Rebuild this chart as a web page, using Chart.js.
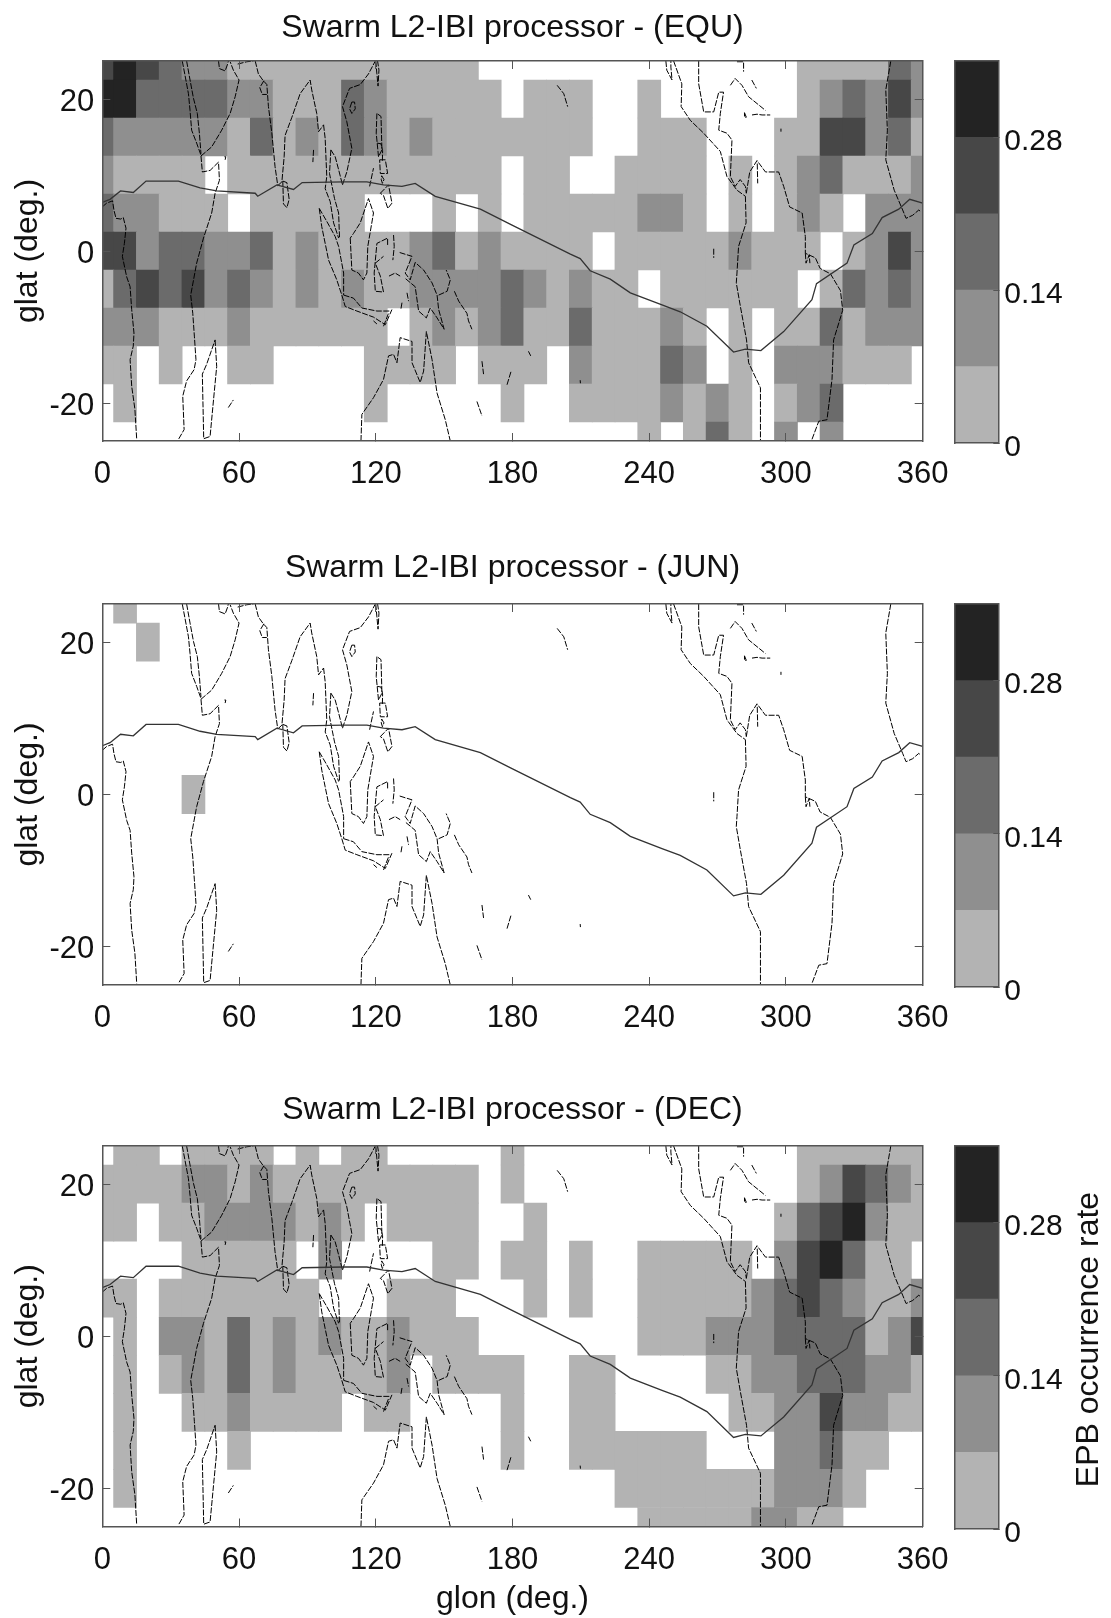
<!DOCTYPE html>
<html lang="en">
  <head>
    <meta charset="UTF-8" />
    <title>Swarm L2-IBI processor</title>
    <script src="https://cdn.jsdelivr.net/npm/chart.js"></script>
    <style>
      body {
        margin: 0;
        background: #fff;
        width: 1111px;
        height: 1618px;
        position: relative;
        overflow: hidden;
      }
      canvas {
        position: absolute;
      }
    </style>
  </head>
  <body>
    <canvas id="mapEqu" width="960" height="501" style="left: 0; top: 0"></canvas>
    <canvas id="mapJun" width="960" height="502" style="left: 0; top: 543px"></canvas>
    <canvas id="mapDec" width="960" height="533" style="left: 0; top: 1085px"></canvas>
    <canvas id="barEqu" width="161" height="432" style="left: 950px; top: 51px"></canvas>
    <canvas id="barJun" width="161" height="433" style="left: 950px; top: 594px"></canvas>
    <canvas id="barDec" width="161" height="433" style="left: 950px; top: 1136px"></canvas>

    <script>
      const lons = [0,10,20,30,40,50,60,70,80,90,100,110,120,130,140,150,160,170,180,190,200,210,220,230,240,250,260,270,280,290,300,310,320,330,340,350,360];
      const lats = [25,20,15,10,5,0,-5,-10,-15,-20,-25];
      const lonTicks = [0,60,120,180,240,300,360];
      const latTicks = [-20,0,20];
      const rateTicks = [0,0.14,0.28];
      const rateBins = [0,0.07,0.14,0.21,0.28,0.35];
      const binColors = ["#b3b3b3","#8f8f8f","#6b6b6b","#474747","#232323"];

      // colour bin per cell (0 = no bubble seen, n = n-th colourbar bin), row per lat
      const equ25 = [4,5,4,3,2,2,1,1,1,1,1,1,1,1,1,1,1,0,0,0,0,0,0,0,0,0,0,0,0,0,0,1,1,1,1,3,2];
      const equ20 = [5,5,3,3,3,3,2,2,1,1,1,3,2,1,1,1,1,1,0,1,1,1,0,0,1,0,0,0,0,0,0,1,2,3,2,4,2];
      const equ15 = [3,2,2,2,2,2,1,3,1,2,1,3,2,1,2,1,1,1,1,1,1,1,0,0,1,1,1,0,0,0,1,1,4,4,2,3,1];
      const equ10 = [2,1,1,1,1,0,1,1,1,1,1,1,1,1,1,1,1,1,0,1,1,0,0,1,1,1,1,0,1,0,1,2,3,1,1,1,2];
      const equ05 = [3,2,2,1,1,1,0,1,1,1,1,1,0,0,0,1,0,1,0,1,1,1,1,1,2,2,1,0,1,0,1,2,1,0,2,2,2];
      const equ00 = [4,4,2,3,3,2,2,3,1,2,1,1,1,1,2,3,1,2,1,1,1,1,0,1,1,1,1,1,2,1,1,1,0,1,2,4,2];
      const equS05 = [1,3,4,3,4,2,3,2,1,2,1,2,1,1,2,2,2,2,3,2,1,2,1,1,0,1,1,1,1,1,1,0,1,3,2,3,2];
      const equS10 = [2,2,2,1,1,1,2,1,1,1,1,1,1,0,1,2,1,2,3,1,1,3,1,1,1,2,1,0,1,0,1,1,3,1,2,2,2];
      const equS15 = [1,1,0,1,0,0,1,1,0,0,0,0,1,1,1,1,0,1,1,1,0,2,1,1,1,3,2,0,1,0,2,2,2,1,1,1,0];
      const equS20 = [0,1,0,0,0,0,0,0,0,0,0,0,1,0,0,0,0,0,1,0,0,1,1,1,1,2,1,2,1,0,1,2,3,0,0,0,0];
      const equS25 = [0,0,0,0,0,0,0,0,0,0,0,0,0,0,0,0,0,0,0,0,0,0,0,0,1,0,1,3,1,0,2,0,2,0,0,0,0];
      const equRows = [equ25,equ20,equ15,equ10,equ05,equ00,equS05,equS10,equS15,equS20,equS25];

      const blankRow = [0,0,0,0,0,0,0,0,0,0,0,0,0,0,0,0,0,0,0,0,0,0,0,0,0,0,0,0,0,0,0,0,0,0,0,0,0];
      const jun25 = [0,1,0,0,0,0,0,0,0,0,0,0,0,0,0,0,0,0,0,0,0,0,0,0,0,0,0,0,0,0,0,0,0,0,0,0,0];
      const jun20 = [0,0,1,0,0,0,0,0,0,0,0,0,0,0,0,0,0,0,0,0,0,0,0,0,0,0,0,0,0,0,0,0,0,0,0,0,0];
      const jun00 = [0,0,0,0,1,0,0,0,0,0,0,0,0,0,0,0,0,0,0,0,0,0,0,0,0,0,0,0,0,0,0,0,0,0,0,0,0];
      const junRows = [jun25,jun20,blankRow,blankRow,blankRow,jun00,blankRow,blankRow,blankRow,blankRow,blankRow];

      const dec25 = [0,1,1,0,1,1,1,1,0,1,0,1,1,0,0,0,0,0,1,0,0,0,0,0,0,0,0,0,0,0,0,1,1,1,1,1,1];
      const dec20 = [1,1,1,1,2,2,1,2,1,1,1,1,1,1,1,1,1,0,1,0,0,0,0,0,0,0,0,0,0,0,0,1,2,4,3,2,1];
      const dec15 = [1,1,0,1,1,2,2,2,2,1,2,1,0,1,1,1,1,0,0,1,0,0,0,0,0,0,0,0,0,0,1,3,4,5,2,1,1];
      const dec10 = [0,0,0,0,1,1,1,1,1,0,2,0,0,0,0,1,1,0,1,1,0,1,0,0,1,1,1,1,1,0,2,4,5,3,1,1,0];
      const dec05 = [1,1,0,1,1,1,1,1,1,1,0,0,0,1,1,1,0,0,0,1,0,1,0,0,1,1,1,1,1,2,3,4,3,2,1,1,2];
      const dec00 = [0,1,0,2,2,1,3,1,2,1,2,1,1,2,1,1,1,0,0,0,0,0,0,0,1,1,1,2,2,2,3,3,3,3,1,2,4];
      const decS05 = [0,1,0,1,2,1,3,1,2,1,1,1,1,2,0,1,1,1,1,0,0,1,1,0,0,0,0,1,1,2,2,3,3,3,2,2,1];
      const decS10 = [0,1,0,0,1,1,2,1,1,1,1,0,1,1,0,0,0,0,1,0,0,1,1,0,0,0,0,0,1,1,2,2,4,2,2,1,1];
      const decS15 = [0,1,0,0,0,0,1,0,0,0,0,0,0,0,0,0,0,0,1,0,0,1,1,1,1,1,1,0,0,0,2,2,3,1,1,0,0];
      const decS20 = [0,1,0,0,0,0,0,0,0,0,0,0,0,0,0,0,0,0,0,0,0,0,0,1,1,1,1,1,1,1,2,2,2,1,0,0,0];
      const decS25 = [0,0,0,0,0,0,0,0,0,0,0,0,0,0,0,0,0,0,0,0,0,0,0,0,1,1,1,1,1,2,2,1,1,0,0,0,0];
      const decRows = [dec25,dec20,dec15,dec10,dec05,dec00,decS05,decS10,decS15,decS20,decS25];

      // magnetic equator, [glon, glat]
      const dipEquator = [[0,6.4],[3.4,6.8],[8,7.9],[13.6,7.7],[19.2,9.2],[33.4,9.2],[42.9,8.3],[50.2,7.9],[67.1,7.6],[68.2,7.2],[76.6,8.7],[83.9,8.1],[87.7,9],[105.9,9.1],[116.1,9.1],[123.4,8.7],[131.5,8.5],[137.3,8.9],[146.1,7.2],[165.9,5.5],[179.8,3.4],[205.4,-0.4],[209.7,-1],[214.1,-2.6],[222.9,-3.7],[231.7,-5.5],[245.6,-7.1],[253.6,-8],[265.3,-9.9],[277,-13.3],[282.2,-12.9],[289,-13.1],[299,-10.6],[311.4,-6.4],[313.4,-4.3],[326.8,-1.6],[329.8,0.8],[337.9,2.3],[342.2,4.4],[349.5,5.5],[354.3,6.8],[360,6.3]];

      // coastlines, [glon, glat]
      const guineaCoast = [[0,5.8],[1.9,6.3],[4.5,6.6],[5.1,5.4],[6,4.3],[8.1,4.2],[9.2,4.4],[10.4,3],[9.7,1],[8.8,-0.7],[10.7,-3.4],[12.2,-4.7],[12.9,-7.7],[13.9,-10.8],[13.6,-12.5],[12.2,-14.3],[12.9,-17.8],[14.3,-20.8],[15.1,-24.8]];
      const eastAfrica = [[43.3,12.5],[43.9,10.4],[47.3,10.6],[51,11.7],[51.4,9.3],[49.5,7.6],[48,5],[44.4,1.7],[41.4,-1.6],[38.8,-5.8],[39.7,-8.2],[40.4,-11.2],[41.1,-14.3],[40.3,-15.6],[37,-17.1],[35.3,-19.1],[35.9,-23.5],[33.4,-24.8]];
      const redSeaWest = [[35.1,25],[36.3,23.1],[37.8,20.7],[38.5,18.5],[39.2,15.9],[41.4,14.2],[43.3,12.6]];
      const redSeaEast = [[37,25],[38.5,22.5],[40,20.1],[41.7,18.1],[42.6,15.5],[43.3,12.8]];
      const arabia = [[43.3,12.5],[48,13.7],[52.4,15.9],[56.1,18.1],[58.3,20.3],[60,22.5],[57.5,23.8],[56.1,24.9]];
      const persianGulf = [[51,25],[51.4,24],[53.9,23.7],[55,24.6],[55.3,25]];
      const makran = [[59.4,24.6],[63.4,24.9],[66.3,25]];
      const socotra = [[53.6,12.4],[54.2,12.4],[53.9,12]];
      const indiaWest = [[67.1,25],[68.5,23.3],[70.4,22.5],[72.2,21.9],[72.9,19],[74.4,15.5],[75.8,11.1],[77,8.6]];
      const kutch = [[70.9,22.4],[69.1,21.5],[70.2,20.6],[72.2,20.6]];
      const indiaEast = [[77,8.6],[78.8,9.1],[79.8,12.4],[80.2,15.2],[83.2,17.6],[86.8,20.7],[91.2,22.5],[91.9,21.2],[94.1,18.1],[94.9,15.7],[97.1,16.6]];
      const sriLanka = [[79.2,9.2],[81,9],[82,6.8],[81,5.7],[79.5,6.2],[79.2,9.2]];
      const andaman = [[92.7,13.3],[92.4,11.7]];
      const malayWest = [[97.1,16.6],[97.8,14.8],[98.5,9.8],[97.8,8.2],[100,6.5],[101.5,3.7],[103.7,1.7]];
      const malayEast = [[100.3,13.3],[99.7,10.2],[101.9,6.9],[103.7,5],[104.1,1.7]];
      const thaiGulf = [[100.3,13.3],[102.2,12.4],[103.7,10.7],[105.4,8.7]];
      const vietnamChina = [[105.4,8.7],[107.3,10.4],[109.5,13.5],[107.3,17],[105.4,19],[108.5,21.4],[113.2,21.9],[116.8,23.3],[119.8,25]];
      const taiwan = [[120,25],[120.5,23.3],[121,21.7],[121.4,23.8],[120.8,25]];
      const hainan = [[109.5,19.6],[108.5,18.7],[109.5,18.1],[111,18.7],[110.7,19.6],[109.5,19.6]];
      const luzon = [[120.5,18.1],[120.2,15.5],[121.2,12.4],[122.7,13.3],[122.3,17.7],[120.5,18.1]];
      const samar = [[120.6,14.2],[122.3,14.1],[123,13.2],[122.9,11.8]];
      const visayas = [[121.7,12],[124.2,12],[125.2,10.2],[122,10.2],[121.7,12]];
      const negros = [[122.6,9.9],[123.6,9.4],[122.9,8.9],[122.4,9.4],[122.6,9.9]];
      const palawan = [[117.3,8.5],[119,10.9]];
      const mindanao = [[122,7.6],[125.6,8.7],[127.1,6.3],[125.3,5.6],[123.4,7.3],[122,7.6]];
      const sumatraWest = [[95.2,5.6],[96.3,3.2],[97.8,1],[99.3,-1.2],[102.9,-3.8],[105.1,-5.8]];
      const sumatraEast = [[95.2,5.6],[98.5,3.9],[102.2,1.9],[103.7,0.6],[105.9,-2.9],[105.9,-5.8]];
      const javaSouth = [[105.1,-5.8],[106.6,-7.3],[111.7,-7.9],[119,-8.7],[124.2,-9.7],[127.1,-7.7]];
      const javaNorth = [[105.9,-5.8],[110.2,-6.2],[113.9,-7.5],[120.5,-7.9],[126.1,-7.9]];
      const sumba = [[119,-9.2],[120.5,-9.6]];
      const timor = [[123.4,-9.9],[125.6,-8.2]];
      const borneo = [[108.8,1.7],[109.5,-2.5],[112.4,-2.9],[114.6,-3.8],[116.1,-2.9],[116.5,0.6],[119,5],[116.8,6.9],[113.2,3.7],[110.2,2.3],[108.8,1.7]];
      const sulawesi = [[125.2,0.8],[125.2,1.7],[120.5,1],[119.3,-2.9],[119.8,-5.3],[123.4,-5.4],[122,-3.3],[119.8,-1.6],[123.4,-0.7]];
      const halmahera = [[127.8,2.1],[128.1,0.6],[127.5,-1.2]];
      const ceram = [[125.8,-3.3],[128.5,-2.9],[130.7,-3.3]];
      const newGuinea = [[130.5,-0.2],[133.7,-0.5],[135.9,-0.7],[132.9,-2.9],[135.1,-3.8],[137.3,-1.5],[141,-2.5],[144.7,-4.2],[146.9,-5.8],[147.6,-7.7],[150,-10.3],[146.9,-8.8],[143.9,-7.5],[142.2,-8.8],[138.8,-7.9],[137.3,-4.7],[132.9,-3.6]];
      const newBritain = [[147.6,-5.8],[151.3,-5.3],[152.7,-3.8],[150.9,-2.5]];
      const solomons = [[154.5,-5.3],[156.4,-6.6],[160,-8.2],[160.7,-9.2],[162.2,-10.3]];
      const arafura = [[133.7,-5.5],[134.4,-6.6]];
      const tanimbar = [[131.5,-6.8],[131,-7.7]];
      const australia = [[113.5,-25],[113.9,-21.5],[119,-19.3],[123.4,-16.9],[125.6,-13.8],[127.8,-13.6],[129.3,-14.7],[130.7,-11.4],[135.9,-11.9],[135.9,-14.7],[139.5,-17.3],[141,-15.8],[142.2,-10.6],[144.7,-14.3],[146.9,-18.7],[150.5,-22.2],[152.7,-25]];
      const madagascar = [[49.5,-11.7],[50.2,-15.2],[48.8,-19.6],[47.3,-24.4],[44.5,-24.7],[43.9,-16.2],[45.8,-14.9],[49.5,-11.7]];
      const mascarene = [[55.3,-20.6],[57.5,-19.6]];
      const hawaii = [[199.6,21.8],[202.5,20.7],[204.2,19]];
      const samoa = [[187,-13.2],[188,-13.8]];
      const fiji = [[177.6,-17.6],[179.4,-15.8]];
      const caledonia = [[164.4,-19.8],[166.6,-21.7]];
      const vanuatu = [[166.6,-14.5],[167.3,-16.2]];
      const tahiti = [[209.7,-17],[209.8,-17.4]];
      const galapagos = [[268.3,0.3],[268.3,-0.9]];
      const baja = [[247.3,25],[247.7,23.8],[250,22.5],[249.5,24.2],[249.5,25]];
      const mexicoWest = [[250.7,25],[254.3,22],[254,19],[258,17.2],[263.9,15.5],[271.2,13.1],[274.1,9.8],[278.5,8],[282.2,7.2]];
      const southAmericaWest = [[282.2,7.2],[282.5,3.7],[279.2,0.6],[278.5,-2.9],[278.2,-4.2],[280,-7.3],[282.7,-11.7],[283.6,-14.7],[288.8,-18],[288.8,-25]];
      const mexicoGulf = [[261.7,25],[261.7,22],[263.9,18.3],[268.3,18.3],[270.5,20.9],[272.6,20.9],[271.2,18.1],[270.5,15.9],[274.1,15.5],[276.3,14.6],[275.6,9.8],[277.7,8.5],[279.9,9.4],[282.2,8.5],[282.6,7.6]];
      const southAmericaNorth = [[282.6,7.6],[284.1,10.4],[287.3,11.9],[291,10.4],[296.8,10.4],[299,8.5],[301.6,5.8],[307.1,5],[308.5,1.9],[308.5,-0.3],[312.9,-0.9],[315,-2.3],[319.5,-3],[323.9,-5.2],[324.9,-7.8],[320.9,-11.7],[320.2,-16.9],[318,-22.2],[314.4,-22.4],[311.4,-24.8]];
      const cuba = [[275.6,21.8],[277.7,22.7],[280.7,21.8],[283.6,20.3],[287.3,19.4],[291,18.5]];
      const florida = [[278.5,24.9],[281.4,24.9],[281.4,23.6]];
      const bahamas = [[285,22.5],[287,21.4]];
      const antilles = [[281.8,18.2],[282.6,17.6],[281.8,17.6],[281.8,18.2]];
      const windward = [[285.1,17.9],[287.3,18],[289.5,17.9],[293.1,17.9]];
      const barbados = [[297.8,16.1],[297.8,15.7]];
      const trinidad = [[287.4,11.5],[287.6,8.9]];
      const amazon = [[308.5,-0.3],[308.8,-1.6],[310.2,-0.5],[310.5,-1.6]];
      const westAfrica = [[346,25],[343.8,21.2],[344.5,15.9],[343.8,12],[347.5,8],[351.2,5.4],[352.7,4.3],[355.6,4.7],[358.3,5.4],[359,5.2]];

      const coastlines = [guineaCoast,eastAfrica,redSeaWest,redSeaEast,arabia,persianGulf,makran,socotra,indiaWest,kutch,indiaEast,sriLanka,andaman,malayWest,malayEast,thaiGulf,vietnamChina,taiwan,hainan,luzon,samar,visayas,negros,palawan,mindanao,sumatraWest,sumatraEast,javaSouth,javaNorth,sumba,timor,borneo,sulawesi,halmahera,ceram,newGuinea,newBritain,solomons,arafura,tanimbar,australia,madagascar,mascarene,hawaii,samoa,fiji,caledonia,vanuatu,tahiti,galapagos,baja,mexicoWest,southAmericaWest,mexicoGulf,southAmericaNorth,cuba,florida,bahamas,antilles,windward,barbados,trinidad,amazon,westAfrica];

      const plotLeft = 102.3;
      const plotRight = 922.7;
      const frameColor = "#555";
      const fontFamily = '"Liberation Sans", Arial, sans-serif';
      const tickFont = { family: fontFamily, size: 31 };
      const barTickFont = { family: fontFamily, size: 30 };
      const labelFont = { family: fontFamily, size: 32 };

      const setTicks = (values) => (scale) => {
        scale.ticks = values.map((value) => ({ value }));
      };
      // fixed axis boxes, and no extra room for labels hanging over the plot edge
      const noOverhang = (scale) => {
        scale.paddingLeft = scale.paddingRight = scale.paddingTop = scale.paddingBottom = 0;
      };
      const setWidth = (w) => (scale) => {
        scale.width = w;
        noOverhang(scale);
      };
      const setHeight = (h) => (scale) => {
        scale.height = h;
        noOverhang(scale);
      };

      function sideAxis(position, min, max, ticks) {
        return {
          position,
          type: "linear",
          min,
          max,
          afterBuildTicks: setTicks(ticks),
          ticks: { display: false },
          grid: { drawOnChartArea: false, tickLength: -8, color: frameColor, z: 1 },
          border: { color: frameColor, width: 1.5, z: 1 },
        };
      }

      function drawMap(id, season, rows, below, xTitle, titleTop) {
        const cells = [];
        const colors = [];
        rows.forEach((row, r) => {
          row.forEach((bin, c) => {
            if (bin > 0) {
              cells.push({ x: lons[c], y: [lats[r] - 2.5, lats[r] + 2.5] });
              colors.push(binColors[bin - 1]);
            }
          });
        });
        const lineSets = coastlines.map((line) => ({
          type: "line",
          data: line.map(([x, y]) => ({ x, y })),
          borderColor: "#000",
          borderWidth: 1,
          borderDash: [6, 1.5],
          pointRadius: 0,
          tension: 0,
          order: 1,
        }));
        lineSets.push({
          type: "line",
          data: dipEquator.map(([x, y]) => ({ x, y })),
          borderColor: "#333",
          borderWidth: 1.3,
          pointRadius: 0,
          tension: 0,
          order: 0,
        });
        new Chart(document.getElementById(id), {
          data: {
            datasets: [
              {
                type: "bar",
                data: cells,
                backgroundColor: colors,
                barThickness: 23,
                borderWidth: 0,
                order: 2,
              },
              ...lineSets,
            ],
          },
          options: {
            responsive: false,
            animation: false,
            devicePixelRatio: 1,
            events: [],
            plugins: {
              legend: { display: false },
              tooltip: { enabled: false },
              title: {
                display: true,
                text: "Swarm L2-IBI processor - (" + season + ")",
                color: "#111",
                fullSize: false,
                font: { ...labelFont, weight: "normal" },
                padding: { top: titleTop, bottom: 22.6 - titleTop },
              },
            },
            scales: {
              x: {
                type: "linear",
                offset: false,
                min: 0,
                max: 360,
                afterBuildTicks: setTicks(lonTicks),
                afterFit: setHeight(below),
                ticks: { color: "#111", font: tickFont, padding: 23, maxRotation: 0, autoSkip: false },
                grid: { offset: false, drawOnChartArea: false, tickLength: -8, color: frameColor, z: 1 },
                border: { color: frameColor, width: 1.5, z: 1 },
                title: {
                  display: !!xTitle,
                  text: xTitle,
                  color: "#111",
                  font: labelFont,
                  padding: { top: 0, bottom: 0 },
                },
              },
              xTop: { ...sideAxis("top", 0, 360, lonTicks), afterFit: setHeight(0) },
              y: {
                type: "linear",
                min: -25,
                max: 25,
                afterBuildTicks: setTicks(latTicks),
                afterFit: setWidth(plotLeft),
                ticks: { color: "#111", font: tickFont, padding: 16, labelOffset: 3 },
                grid: { drawOnChartArea: false, tickLength: -8, color: frameColor, z: 1 },
                border: { color: frameColor, width: 1.5, z: 1 },
                title: {
                  display: true,
                  text: "glat (deg.)",
                  color: "#111",
                  font: labelFont,
                  padding: { top: 9, bottom: 0 },
                },
              },
              yRight: { ...sideAxis("right", -25, 25, latTicks), afterFit: setWidth(960 - plotRight) },
            },
          },
        });
      }

      // rotated colourbar caption, Chart.js only turns a right-hand axis title the other way
      const captionPlugin = {
        id: "caption",
        afterDraw(chart, args, opts) {
          if (!opts.text) return;
          const { ctx, chartArea } = chart;
          ctx.save();
          ctx.translate(chartArea.right + 91, (chartArea.top + chartArea.bottom) / 2 + 2);
          ctx.rotate(-Math.PI / 2);
          ctx.font = labelFont.size + "px " + fontFamily;
          ctx.fillStyle = "#111";
          ctx.textAlign = "center";
          ctx.textBaseline = "middle";
          ctx.fillText(opts.text, 0, 0);
          ctx.restore();
        },
      };

      function drawColorbar(id, caption) {
        const datasets = binColors.map((color, i) => ({
          data: [[rateBins[i], rateBins[i + 1]]],
          backgroundColor: color,
          barPercentage: 1,
          categoryPercentage: 1,
          borderWidth: 0,
          grouped: false,
        }));
        new Chart(document.getElementById(id), {
          type: "bar",
          data: { labels: [""], datasets },
          plugins: [captionPlugin],
          options: {
            responsive: false,
            animation: false,
            devicePixelRatio: 1,
            events: [],
            plugins: {
              legend: { display: false },
              tooltip: { enabled: false },
              caption: { text: caption },
            },
            scales: {
              x: {
                afterFit: setHeight(40),
                ticks: { display: false },
                grid: { display: false },
                border: { color: frameColor, width: 1.5, z: 1 },
              },
              xTop: {
                position: "top",
                type: "linear",
                min: 0,
                max: 1,
                afterFit: setHeight(10),
                ticks: { display: false },
                grid: { display: false },
                border: { color: frameColor, width: 1.5, z: 1 },
              },
              y: {
                position: "right",
                min: 0,
                max: rateBins[rateBins.length - 1],
                afterBuildTicks: setTicks(rateTicks),
                afterFit: setWidth(112.7),
                ticks: {
                  color: "#111",
                  font: barTickFont,
                  padding: 11,
                  labelOffset: 4.5,
                  callback: (v) => String(v),
                },
                grid: { drawOnChartArea: false, tickLength: -5, color: frameColor, z: 1 },
                border: { color: frameColor, width: 1.5, z: 1 },
              },
              yLeft: {
                position: "left",
                type: "linear",
                min: 0,
                max: 1,
                afterFit: setWidth(5),
                ticks: { display: false },
                grid: { display: false },
                border: { color: frameColor, width: 1.5, z: 1 },
              },
            },
          },
        });
      }

      drawMap("mapEqu", "EQU", equRows, 60, "", 8.5);
      drawMap("mapJun", "JUN", junRows, 60, "", 5.5);
      drawMap("mapDec", "DEC", decRows, 91.5, "glon (deg.)", 5.5);
      drawColorbar("barEqu", "");
      drawColorbar("barJun", "");
      drawColorbar("barDec", "EPB occurrence rate");
    </script>
  </body>
</html>
